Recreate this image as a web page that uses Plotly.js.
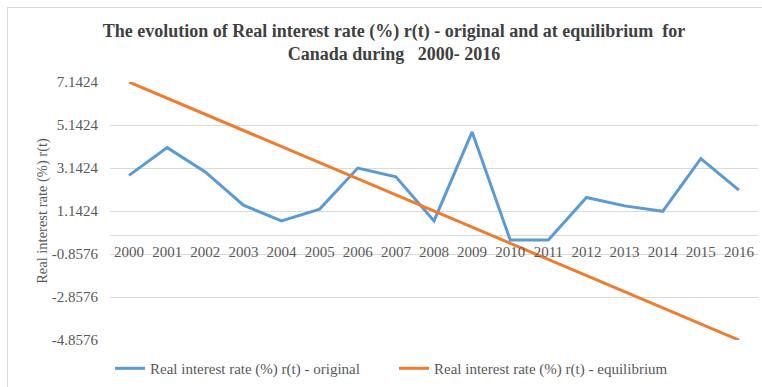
<!DOCTYPE html>
<html>
<head>
<meta charset="utf-8">
<script src="https://cdn.plot.ly/plotly-3.0.1.min.js"></script>
<style>
  html, body { margin: 0; padding: 0; background: #ffffff; }
  #wrap { position: relative; width: 762px; height: 387px; overflow: hidden; }
  #chart { position: absolute; left: 0; top: 0; width: 762px; height: 387px; }
  #frame { position: absolute; left: 7px; top: 7px; width: 800px; height: 420px;
           border: 1px solid #d9d9d9; pointer-events: none; }
</style>
</head>
<body>
<div id="wrap">
  <div id="frame"></div>
  <div id="chart"></div>
</div>
<script>
const years = ["2000","2001","2002","2003","2004","2005","2006","2007","2008",
               "2009","2010","2011","2012","2013","2014","2015","2016"];
const original = [2.80, 4.09, 2.96, 1.41, 0.68, 1.23, 3.14, 2.73, 0.68,
                  4.82, -0.21, -0.21, 1.77, 1.38, 1.13, 3.58, 2.11];
const equilibrium = [7.14, 6.39, 5.64, 4.89, 4.14, 3.39, 2.64, 1.89, 1.14,
                     0.39, -0.36, -1.11, -1.86, -2.61, -3.36, -4.11, -4.86];
const yTickVals = [-4.8576, -2.8576, -0.8576, 1.1424, 3.1424, 5.1424, 7.1424];
const yTickText = ["-4.8576", "-2.8576", "-0.8576", "1.1424", "3.1424", "5.1424", "7.1424"];
const seriesNames = ["Real interest rate (%) r(t) - original",
                     "Real interest rate (%) r(t) - equilibrium"];
const chartTitle = "The evolution of Real interest rate (%) r(t) - original and at equilibrium  for<br>Canada during   2000- 2016";
const yTitle = "Real interest rate (%) r(t)";

const yMin = -4.8576, yMax = 7.1424;
const serif = "Times New Roman, Liberation Serif, serif";

const traces = [
  { x: years, y: original, name: seriesNames[0], type: "scatter", mode: "lines",
    line: { color: "#5B9BD5", width: 3 } },
  { x: years, y: equilibrium, name: seriesNames[1], type: "scatter", mode: "lines",
    line: { color: "#ED7D31", width: 3 } }
];

const layout = {
  width: 762, height: 387,
  margin: { l: 110, r: 4, t: 82, b: 47, autoexpand: false },
  paper_bgcolor: "rgba(0,0,0,0)",
  plot_bgcolor: "rgba(0,0,0,0)",
  title: {
    text: chartTitle,
    font: { family: serif, size: 18, color: "#404040", weight: "bold" },
    x: 394 / 762, xref: "container", xanchor: "center",
    y: 0.905, yref: "container", yanchor: "middle"
  },
  showlegend: true,
  legend: {
    orientation: "h", x: 110 / 762, xref: "container", xanchor: "left",
    y: 0.005, yref: "container", yanchor: "bottom",
    font: { family: serif, size: 15, color: "#595959" },
    entrywidth: 239, entrywidthmode: "pixels",
    bgcolor: "rgba(0,0,0,0)"
  },
  xaxis: {
    type: "category",
    categoryorder: "array", categoryarray: years,
    range: [-0.5, 16.5],
    anchor: "free", position: (0 - yMin) / (yMax - yMin),
    showgrid: false, zeroline: false, showline: false,
    ticks: "outside", ticklen: 2, tickcolor: "rgba(0,0,0,0)",
    tickfont: { family: serif, size: 15, color: "#595959" },
    fixedrange: true
  },
  yaxis: {
    range: [yMin, yMax],
    tickvals: yTickVals, ticktext: yTickText,
    showgrid: true, gridcolor: "#d9d9d9", gridwidth: 1,
    zeroline: true, zerolinecolor: "#d9d9d9", zerolinewidth: 1,
    showline: false,
    ticks: "outside", ticklen: 8, tickcolor: "rgba(0,0,0,0)",
    tickfont: { family: serif, size: 15, color: "#595959" },
    title: { text: yTitle, font: { family: serif, size: 14.5, color: "#595959" }, standoff: 0 },
    fixedrange: true
  }
};

Plotly.newPlot("chart", traces, layout, { staticPlot: true, displayModeBar: false });
</script>
</body>
</html>
